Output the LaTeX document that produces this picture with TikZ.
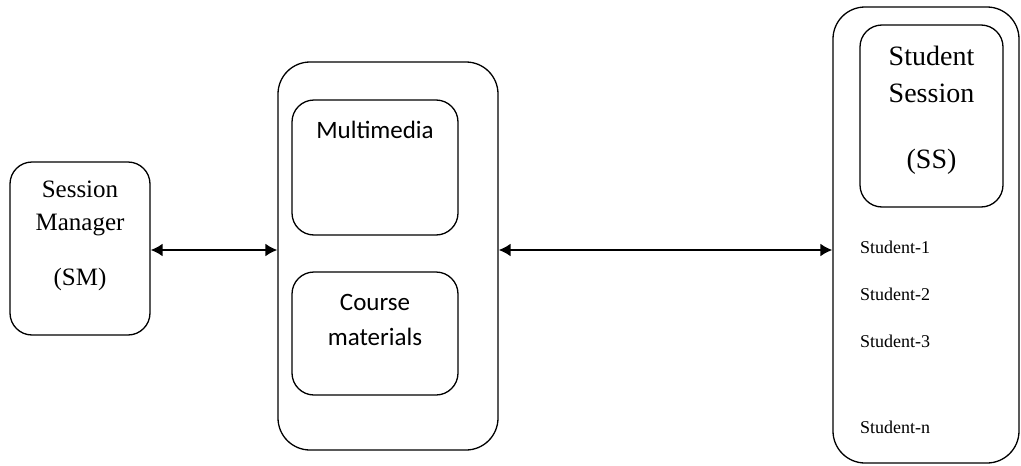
\documentclass[tikz,border=0pt]{standalone}
\usepackage{fontspec}
\setmainfont{Liberation Serif}
\newfontfamily\calfont{Carlito}
\usepackage{tikz}
\usetikzlibrary{calc, arrows.meta, positioning}

\tikzset{
    box/.style={draw, line width=1.3pt, rounded corners=22pt, inner sep=0pt},
    link/.style={{Latex[length=12pt,width=13pt]}-{Latex[length=12pt,width=13pt]}, line width=2pt},
    txt/.style={anchor=base, inner sep=0pt}
}

\begin{document}
\begin{tikzpicture}[x=1pt, y=-1pt]

    \useasboundingbox (0,0) rectangle (1021,466);

    % =================================================================
    % SESSION MANAGER
    % =================================================================
    \node[box, minimum width=140pt, minimum height=173pt] (sm) at (80,248.5) {};
    \node[txt, font=\fontsize{25}{29}\selectfont] (smA) at (80,197) {Session};
    \node[txt, font=\fontsize{25}{29}\selectfont] (smB) at (80,230) {Manager};
    \node[txt, font=\fontsize{25}{29}\selectfont] (smC) at (80,285) {(SM)};

    % =================================================================
    % KHỐI GIỮA
    % =================================================================
    \node[box, rounded corners=32pt, minimum width=220pt, minimum height=388pt] (mid) at (388,256) {};

    \node[box, minimum width=166pt, minimum height=135pt] (mm) at (375,167.5) {};
    \node[txt, font=\calfont\fontsize{25}{30}\selectfont] (mmA) at (375,138) {Multimedia};

    \node[box, minimum width=166pt, minimum height=123pt] (cm) at (375,333.5) {};
    \node[txt, font=\calfont\fontsize{25}{30}\selectfont] (cmA) at (375,310) {Course};
    \node[txt, font=\calfont\fontsize{25}{30}\selectfont] (cmB) at (375,345) {materials};

    % =================================================================
    % STUDENT SESSION
    % =================================================================
    \node[box, rounded corners=32pt, minimum width=186pt, minimum height=456pt] (ss) at (926,235) {};

    \node[box, minimum width=143pt, minimum height=182pt] (ssin) at (931.5,116) {};
    \node[txt, font=\fontsize{28}{33}\selectfont] (ssA) at (931.5,65) {Student};
    \node[txt, font=\fontsize{28}{33}\selectfont] (ssB) at (931.5,102) {Session};
    \node[txt, font=\fontsize{28}{33}\selectfont] (ssC) at (931.5,168) {(SS)};

    % Danh sách sinh viên
    \node[txt, anchor=base west, font=\fontsize{18}{21}\selectfont] (st1) at (860,253) {Student-1};
    \node[txt, anchor=base west, font=\fontsize{18}{21}\selectfont] (st2) at (860,300) {Student-2};
    \node[txt, anchor=base west, font=\fontsize{18}{21}\selectfont] (st3) at (860,347) {Student-3};
    \node[txt, anchor=base west, font=\fontsize{18}{21}\selectfont] (stn) at (860,433) {Student-n};

    % =================================================================
    % MŨI TÊN
    % =================================================================
    \coordinate (aL) at ($(sm.east)+(0,1.5)$);
    \draw[link] (aL) -- (aL -| mid.west);
    \draw[link] (aL -| mid.east) -- (aL -| ss.west);

\end{tikzpicture}
\end{document}
